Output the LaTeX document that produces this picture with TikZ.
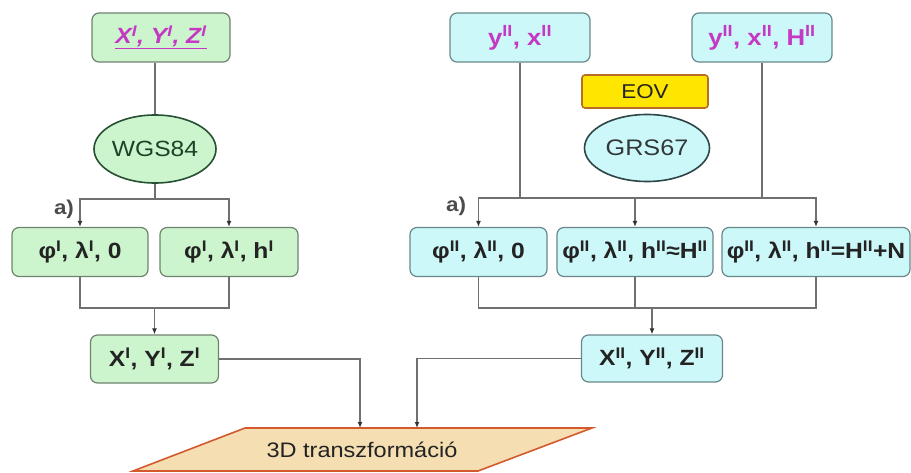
\documentclass[tikz,border=0pt]{standalone}
\usepackage{fontspec}
\setmainfont[FakeStretch=1.12]{Liberation Sans}
\usetikzlibrary{shapes.geometric,arrows.meta}
\definecolor{gfill}{RGB}{205,245,205}
\definecolor{gborder}{RGB}{110,130,112}
\definecolor{cfill}{RGB}{205,248,250}
\definecolor{cborder}{RGB}{105,135,138}
\definecolor{wgsborder}{RGB}{40,80,52}
\definecolor{wgstext}{RGB}{30,66,40}
\definecolor{grsborder}{RGB}{45,70,72}
\definecolor{grstext}{RGB}{50,56,58}
\definecolor{eovfill}{RGB}{255,230,0}
\definecolor{eovborder}{RGB}{185,110,40}
\definecolor{parafill}{RGB}{244,222,178}
\definecolor{paraborder}{RGB}{212,90,45}
\definecolor{magtext}{RGB}{196,56,196}
\definecolor{lgray}{RGB}{112,112,112}
\definecolor{txt}{RGB}{35,35,35}
\newcommand\uI{\textsuperscript{I}}
\newcommand\uII{\textsuperscript{II}}
\begin{document}
\begin{tikzpicture}[x=1pt,y=-1pt,
  boxbase/.style={rounded corners=7pt, line width=1.2pt, minimum height=49pt, inner sep=0pt, text=txt,
    font=\fontsize{22}{24}\selectfont\bfseries},
  gbox/.style={boxbase, draw=gborder, fill=gfill},
  cbox/.style={boxbase, draw=cborder, fill=cfill},
  conn/.style={draw=lgray, line width=1.2pt},
  arr/.style={conn, -{Latex[length=6pt,width=5pt,color=black!80]}},
  alabel/.style={font=\fontsize{20}{22}\selectfont\bfseries, text=black!70, inner sep=0pt}
]
\useasboundingbox (0,0) rectangle (911,473);

% left column
\node[gbox, minimum width=138pt, text=magtext] (tl) at (161,37.5) {\textit{\underline{X\uI, Y\uI, Z\uI}}};
\node[ellipse, draw=wgsborder, fill=gfill, line width=1.6pt, minimum width=121pt, minimum height=68pt, inner sep=0pt,
  font=\fontsize{22}{24}\selectfont, text=wgstext] (wgs) at (155,149) {WGS84};
\node[gbox, minimum width=136pt] (b1) at (80,252) {φ\uI, λ\uI, 0};
\node[gbox, minimum width=138pt] (b2) at (229,252) {φ\uI, λ\uI, h\uI};
\node[gbox, minimum width=128pt, minimum height=48pt] (x1) at (154.5,359) {X\uI, Y\uI, Z\uI};
\node[alabel] (a1) at (64,209) {a)};

% right column
\node[cbox, minimum width=140pt, text=magtext, font=\fontsize{23}{24}\selectfont\bfseries] (r1) at (520,37.5) {y\uII, x\uII};
\node[cbox, minimum width=140pt, text=magtext, font=\fontsize{23}{24}\selectfont\bfseries] (r2) at (762,37.5) {y\uII, x\uII, H\uII};
\node[draw=eovborder, fill=eovfill, line width=1.6pt, rounded corners=3pt, minimum width=126pt, minimum height=33pt,
  inner sep=0pt, font=\fontsize{20}{22}\selectfont, text=txt] (eov) at (645,91.5) {EOV};
\node[ellipse, draw=grsborder, fill=cfill, line width=1.6pt, minimum width=125pt, minimum height=67pt, inner sep=0pt,
  font=\fontsize{22.5}{24}\selectfont, text=grstext] (grs) at (647,148) {GRS67};
\node[cbox, minimum width=137pt] (c1) at (478.5,252) {φ\uII, λ\uII, 0};
\node[cbox, minimum width=156pt] (c2) at (635,252) {φ\uII, λ\uII, h\uII≈H\uII};
\node[cbox, minimum width=188pt] (c3) at (816,252) {φ\uII, λ\uII, h\uII=H\uII+N};
\node[cbox, minimum width=141pt, minimum height=47pt] (x2) at (652,358.5) {X\uII, Y\uII, Z\uII};
\node[alabel] (a2) at (456,206) {a)};

% parallelogram
\draw[fill=parafill, draw=paraborder, line width=1.6pt] (245,428) -- (592,428) -- (478,471) -- (133,471) -- cycle;
\node[font=\fontsize{21}{24}\selectfont, text=txt, inner sep=0pt] (tr) at (362,450) {3D transzformáció};
\coordinate (p1) at (360,428);
\coordinate (p2) at (417,428);

% left connectors
\coordinate (j1) at (155,199);
\coordinate (j2) at (154.5,308);
\draw[conn] (wgs.north |- tl.south) -- (wgs.north);
\draw[conn] (wgs.south) -- (j1);
\draw[arr] (j1) -| (b1.north);
\draw[arr] (j1) -| (b2.north);
\draw[conn] (b1.south) |- (j2) -| (b2.south);
\draw[arr] (j2) -- (x1.north);

% right connectors
\coordinate (k1) at (520,198);
\coordinate (k2) at (762,198);
\coordinate (k3) at (652,308);
\draw[conn] (r1.south) -- (k1);
\draw[conn] (r2.south) -- (k2);
\draw[arr] (k1) -| (c1.north);
\draw[arr] (k2) -| (c3.north);
\draw[conn] (k1) -- (k2);
\draw[arr] (c2.north |- k1) -- (c2.north);
\draw[conn] (c1.south) |- (k3) -| (c3.south);
\draw[conn] (c2.south) -- (c2.south |- k3);
\draw[arr] (k3) -- (x2.north);

% to 3D
\draw[arr] (x1.east) -| (p1);
\draw[arr] (x2.west) -| (p2);
\end{tikzpicture}
\end{document}
